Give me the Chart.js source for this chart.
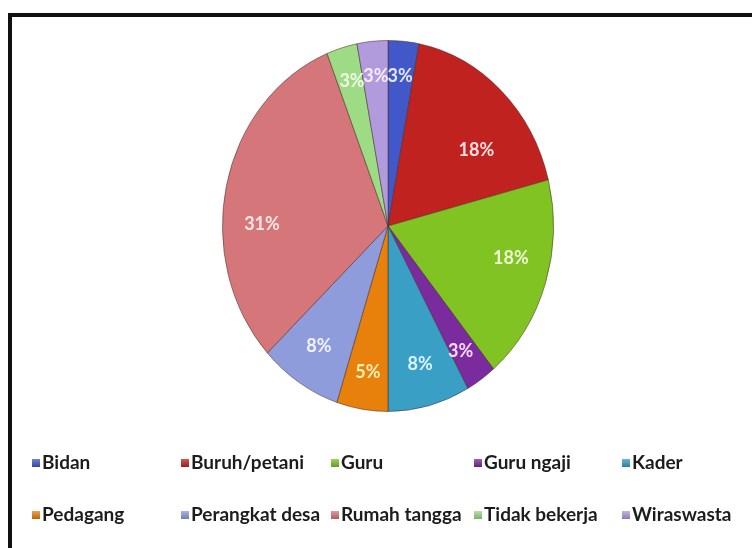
<!DOCTYPE html>
<html>
<head>
<meta charset="utf-8">
<script src="https://cdn.jsdelivr.net/npm/chart.js@4/dist/chart.umd.min.js"></script>
<style>
  body { margin: 0; background: #fff; }
  #pekerjaanChart { display: block; }
</style>
</head>
<body>
<canvas id="pekerjaanChart" width="752" height="548"></canvas>
<script>
const categories = ['Bidan', 'Buruh/petani', 'Guru', 'Guru ngaji', 'Kader', 'Pedagang', 'Perangkat desa', 'Rumah tangga', 'Tidak bekerja', 'Wiraswasta'];
const percentages = [3, 18, 18, 3, 8, 5, 8, 31, 3, 3];

const sliceColors = ['#4358c8', '#c0221f', '#80c322', '#7a2b9e', '#3a9fc5', '#e8800c', '#8e9cdc', '#d5777a', '#9ddb84', '#b29bdc'];
const labelColors = ['#e2e8ff', '#ffe2e0', '#eefad6', '#f6dcfa', '#dcf4ff', '#fff0b4', '#f0f2ff', '#fde6e0', '#effde6', '#f4ecff'];

// pie is drawn a bit narrower than it is tall
const squeezeX = 166 / 186;

function shade(hex, amt) {
    const n = parseInt(hex.slice(1), 16);
    const f = (c) => Math.max(0, Math.min(255, Math.round(c + (amt > 0 ? (255 - c) * amt : c * amt))));
    return `rgb(${f(n >> 16)},${f((n >> 8) & 255)},${f(n & 255)})`;
}

const ovalPie = {
    id: 'ovalPie',
    beforeDraw(chart) {
        const ctx = chart.ctx;
        ctx.save();
        ctx.fillStyle = '#111';
        ctx.fillRect(8, 13, 760, 4);
        ctx.fillRect(8, 13, 4, 560);
        ctx.restore();
    },
    beforeDatasetsDraw(chart) {
        const arc = chart.getDatasetMeta(0).data[0];
        const ctx = chart.ctx;
        ctx.save();
        ctx.translate(arc.x, 0);
        ctx.scale(squeezeX, 1);
        ctx.translate(-arc.x, 0);
    },
    afterDatasetsDraw(chart) {
        const ctx = chart.ctx;
        ctx.restore();

        // percentage labels inside the slices; wide slices get their label pulled toward the centre line
        const total = percentages.reduce((a, b) => a + b, 0);
        ctx.save();
        ctx.font = 'bold 18px Lato';
        ctx.textAlign = 'center';
        ctx.textBaseline = 'middle';
        chart.getDatasetMeta(0).data.forEach((arc, i) => {
            const frac = percentages[i] / total;
            const mid = (arc.startAngle + arc.endAngle) / 2;
            const fx = 0.78;
            const fy = 0.82 * (1 - Math.pow(frac / 0.32, 2));
            const px = arc.x + squeezeX * arc.outerRadius * fx * Math.cos(mid);
            const py = arc.y + arc.outerRadius * fy * Math.sin(mid);
            ctx.fillStyle = labelColors[i];
            ctx.fillText(percentages[i] + '%', px, py);
        });
        ctx.restore();
    },
    afterDraw(chart) {
        // two-row legend on a fixed column grid
        const ctx = chart.ctx;
        const cols = [32, 181, 331, 474, 622];
        const rows = [463, 515];
        ctx.save();
        ctx.font = 'bold 19px Lato';
        ctx.textBaseline = 'middle';
        categories.forEach((name, i) => {
            const x = cols[i % 5];
            const y = rows[Math.floor(i / 5)];
            const g = ctx.createLinearGradient(0, y - 4, 0, y + 4);
            g.addColorStop(0, shade(sliceColors[i], 0.25));
            g.addColorStop(1, shade(sliceColors[i], -0.2));
            ctx.fillStyle = g;
            ctx.fillRect(x, y - 4, 8, 8);
            ctx.fillStyle = '#1c1c1c';
            ctx.fillText(name, x + 10, y);
        });
        ctx.restore();
    }
};

new Chart(document.getElementById('pekerjaanChart'), {
    type: 'pie',
    data: {
        labels: categories,
        datasets: [{
            data: percentages,
            backgroundColor: (c) => {
                const arc = c.element;
                const base = sliceColors[c.dataIndex];
                if (!arc || !arc.outerRadius) return base;
                const g = c.chart.ctx.createRadialGradient(arc.x, arc.y, 0, arc.x, arc.y, arc.outerRadius);
                g.addColorStop(0, base);
                g.addColorStop(0.9, base);
                g.addColorStop(0.97, shade(base, 0.15));
                g.addColorStop(1, shade(base, -0.15));
                return g;
            },
            borderColor: 'rgba(70,40,40,0.55)',
            borderWidth: 1,
            hoverOffset: 0
        }]
    },
    options: {
        responsive: false,
        devicePixelRatio: 1,
        animation: false,
        layout: { padding: { top: 40, bottom: 136, left: 200, right: 176 } },
        plugins: {
            legend: { display: false },
            tooltip: { enabled: false }
        }
    },
    plugins: [ovalPie]
});
</script>
</body>
</html>
